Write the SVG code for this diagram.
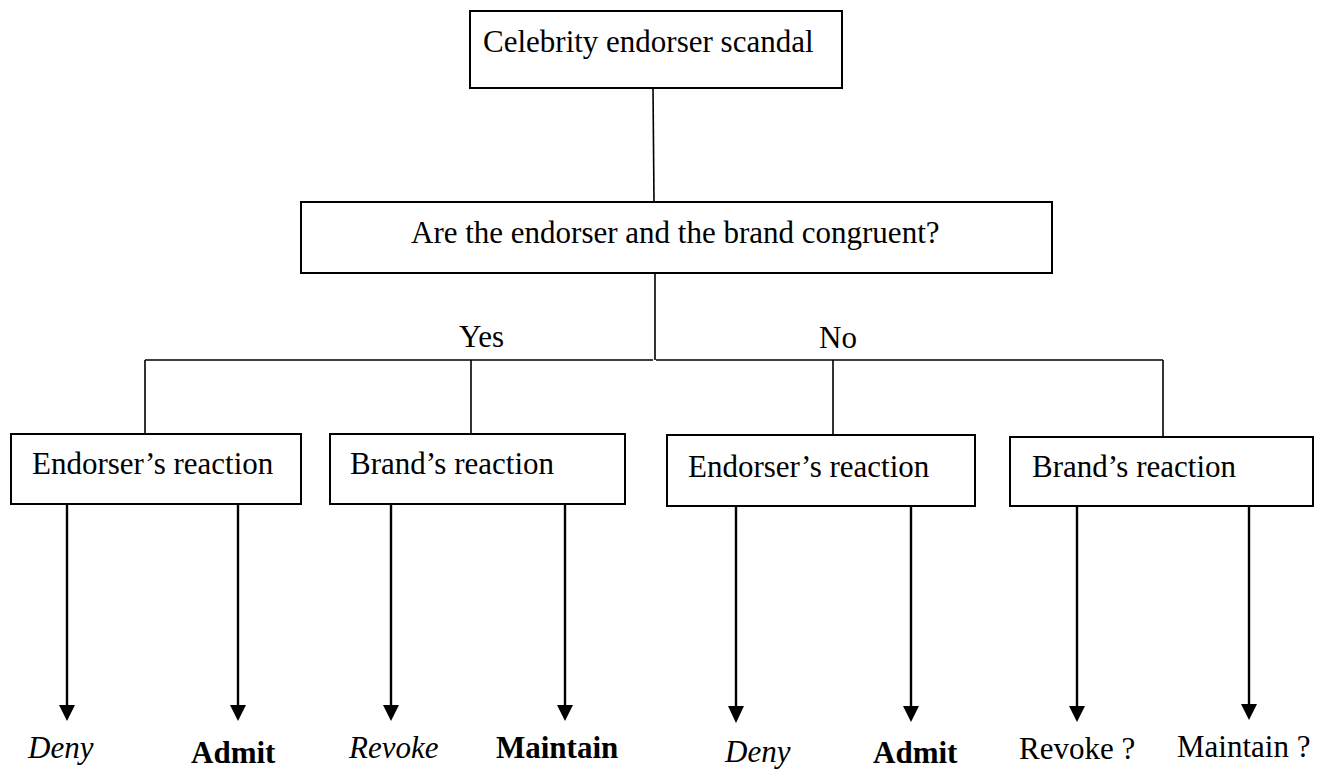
<svg xmlns="http://www.w3.org/2000/svg" width="1342" height="773" viewBox="0 0 1342 773">
<style>
  .box { fill: #ffffff; stroke: #000000; stroke-width: 2; }
  .t { font-family: "Liberation Serif", "Times New Roman", serif; font-size: 31px; fill: #000000; }
  .it { font-style: italic; }
  .bd { font-weight: bold; }
  .ln { stroke: #000000; stroke-width: 1.6; fill: none; }
  .ar { stroke: #000000; stroke-width: 2.4; fill: none; marker-end: url(#ah); }
</style>
<defs>
  <marker id="ah" markerWidth="6" markerHeight="7" refX="3" refY="6.5" orient="auto" markerUnits="userSpaceOnUse" viewBox="0 0 6 7" >
    <path d="M0,0 L6,0 L3,7 Z" fill="#000000"/>
  </marker>
  <marker id="head" markerWidth="16" markerHeight="17" refX="8" refY="16" orient="0" markerUnits="userSpaceOnUse">
    <path d="M0,0 L16,0 L8,17 Z" fill="#000000"/>
  </marker>
</defs>
<rect width="1342" height="773" fill="#ffffff"/>

<g id="connectors">
  <line class="ln" x1="653" y1="88" x2="654" y2="202"/>
  <line class="ln" x1="655" y1="273" x2="655" y2="360"/>
  <line class="ln" x1="145" y1="360" x2="653" y2="360"/>
  <line class="ln" x1="656" y1="360" x2="1163" y2="360"/>
  <line class="ln" x1="145" y1="360" x2="145" y2="434"/>
  <line class="ln" x1="471" y1="360" x2="471" y2="434"/>
  <line class="ln" x1="833" y1="360" x2="833" y2="434"/>
  <line class="ln" x1="1163" y1="360" x2="1163" y2="437"/>
  <g stroke="#000" stroke-width="2.4">
    <line x1="67" y1="504" x2="67" y2="706"/>
    <line x1="238" y1="504" x2="238" y2="706"/>
    <line x1="391" y1="504" x2="391" y2="706"/>
    <line x1="565" y1="504" x2="565" y2="706"/>
    <line x1="736" y1="506" x2="736" y2="707"/>
    <line x1="911" y1="506" x2="911" y2="707"/>
    <line x1="1077" y1="506" x2="1077" y2="707"/>
    <line x1="1249" y1="506" x2="1249" y2="705"/>
  </g>
  <g fill="#000">
    <path d="M59,705 L75,705 L67,721 Z"/>
    <path d="M230,705 L246,705 L238,721 Z"/>
    <path d="M383,705 L399,705 L391,721 Z"/>
    <path d="M557,705 L573,705 L565,721 Z"/>
    <path d="M728,706 L744,706 L736,723 Z"/>
    <path d="M903,706 L919,706 L911,722 Z"/>
    <path d="M1069,706 L1085,706 L1077,722 Z"/>
    <path d="M1241,704 L1257,704 L1249,720 Z"/>
  </g>
</g>

<g id="n_scandal">
  <rect class="box" x="470" y="11" width="372" height="77"/>
  <text class="t" x="483" y="52">Celebrity endorser scandal</text>
</g>
<g id="n_congruent">
  <rect class="box" x="301" y="202" width="751" height="71"/>
  <text class="t" x="411" y="243">Are the endorser and the brand congruent?</text>
</g>
<g id="lbl_yes"><text class="t" x="459" y="347">Yes</text></g>
<g id="lbl_no"><text class="t" x="819" y="348">No</text></g>

<g id="n_yes_endorser">
  <rect class="box" x="11" y="434" width="290" height="70"/>
  <text class="t" x="32" y="474">Endorser’s reaction</text>
</g>
<g id="n_yes_brand">
  <rect class="box" x="330" y="434" width="295" height="70"/>
  <text class="t" x="350" y="474">Brand’s reaction</text>
</g>
<g id="n_no_endorser">
  <rect class="box" x="667" y="435" width="308" height="71"/>
  <text class="t" x="688" y="477">Endorser’s reaction</text>
</g>
<g id="n_no_brand">
  <rect class="box" x="1010" y="437" width="303" height="69"/>
  <text class="t" x="1032" y="477">Brand’s reaction</text>
</g>

<g id="o_deny1"><text class="t it" x="28" y="758">Deny</text></g>
<g id="o_admit1"><text class="t bd" x="191" y="763">Admit</text></g>
<g id="o_revoke1"><text class="t it" x="349" y="758">Revoke</text></g>
<g id="o_maintain1"><text class="t bd" x="496" y="758">Maintain</text></g>
<g id="o_deny2"><text class="t it" x="725" y="762">Deny</text></g>
<g id="o_admit2"><text class="t bd" x="873" y="763">Admit</text></g>
<g id="o_revoke2"><text class="t" x="1019" y="759">Revoke ?</text></g>
<g id="o_maintain2"><text class="t" x="1177" y="757">Maintain ?</text></g>
</svg>
